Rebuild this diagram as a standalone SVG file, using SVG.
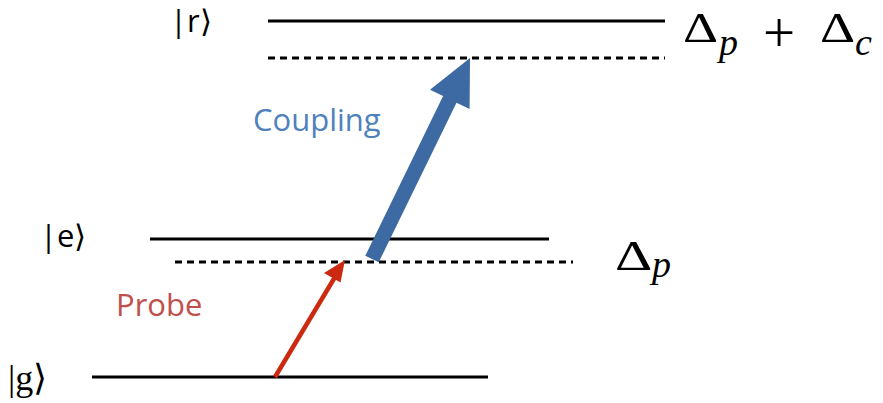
<svg xmlns="http://www.w3.org/2000/svg" width="883" height="403" viewBox="0 0 883 403">
<style>
.lvl{stroke:#000;stroke-width:3;fill:none}
.dash{stroke:#000;stroke-width:3;fill:none;stroke-dasharray:7 5}
.ket{font-family:"Open Sans","Liberation Sans",sans-serif;font-size:31px;fill:#000}
.ketg{font-family:"Liberation Serif",serif;font-size:36px;fill:#000}
.delta{font-family:"Liberation Serif",serif;font-size:43px;fill:#000}
.plus{font-family:"Liberation Serif",serif;font-size:57px;fill:#000}
.sub{font-family:"Liberation Serif",serif;font-style:italic;font-size:38px;fill:#000}
.lbl{font-family:"Open Sans","Liberation Sans",sans-serif;font-size:31px}
</style>
<rect width="883" height="403" fill="#fff"/>
<g id="level-r">
<line class="lvl" x1="268" y1="21" x2="665" y2="21"/>
<text class="ket" x="170" y="32">|r⟩</text>
</g>
<g id="level-r-detuned">
<line class="dash" x1="268" y1="58" x2="665" y2="58"/>
<text class="delta" transform="translate(683,42) scale(1.27,1)">Δ</text>
<text class="sub" x="719" y="55">p</text>
<text class="plus" x="763" y="52">+</text>
<text class="delta" transform="translate(820,42) scale(1.27,1)">Δ</text>
<text class="sub" x="855" y="55">c</text>
</g>
<g id="level-e">
<line class="lvl" x1="150" y1="239" x2="549" y2="239"/>
<text class="ket" x="40" y="247">|e⟩</text>
</g>
<g id="level-e-detuned">
<line class="dash" x1="175" y1="262" x2="573" y2="262"/>
<text class="delta" transform="translate(615,270) scale(1.35,1)">Δ</text>
<text class="sub" x="652" y="277">p</text>
</g>
<g id="level-g">
<line class="lvl" x1="92" y1="377" x2="488" y2="377"/>
<text class="ketg" x="8" y="390">|g⟩</text>
</g>
<g id="connectors">
<line x1="275" y1="377" x2="335" y2="277" stroke="#cc2a10" stroke-width="4.5"/>
<polygon points="345,260 340.5,282.5 324,273" fill="#cc2a10"/>
<polygon points="365.3,255.7 443.1,96.1 430,89.8 470,58 469.6,109 456.5,102.7 378.7,262.3" fill="#3d6aa2"/>
</g>
<g id="labels">
<text class="lbl" x="116" y="316" fill="#c0504d">Probe</text>
<text class="lbl" x="253" y="131" fill="#4f81bd">Coupling</text>
</g>
</svg>
